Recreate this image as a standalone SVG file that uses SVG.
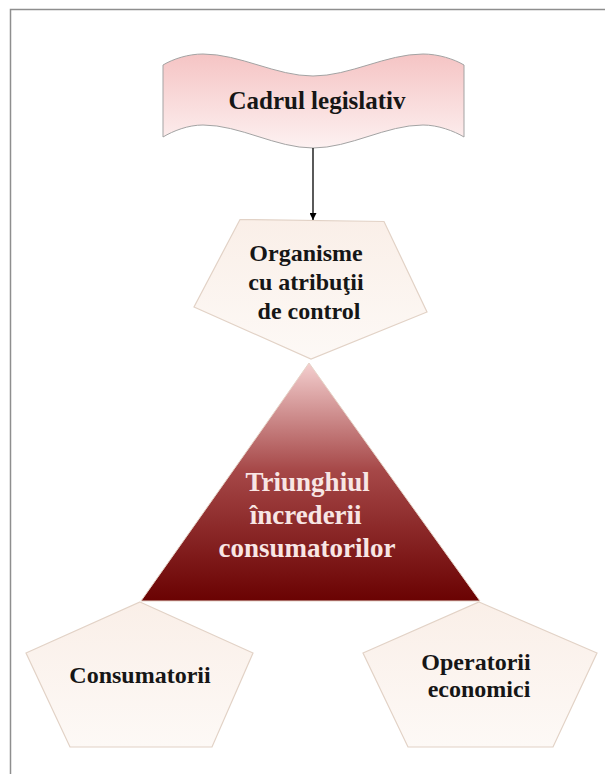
<svg xmlns="http://www.w3.org/2000/svg" width="605" height="774" viewBox="0 0 605 774">
  <style>
    .lbl { font-family: "Liberation Serif", "Times New Roman", serif; font-weight: bold; text-anchor: middle; fill: #161616; }
    .lbl-light { font-family: "Liberation Serif", "Times New Roman", serif; font-weight: bold; text-anchor: middle; fill: #f8e6e4; }
    .penta { fill: url(#creamFill); stroke: #e2d2c6; stroke-width: 1.2; }
    .frame { stroke: #8e8e8e; stroke-width: 1.5; fill: none; }
    .link { stroke: #000; stroke-width: 1.3; fill: none; }
  </style>
  <defs>
    <linearGradient id="pinkFill" x1="0" y1="0" x2="0" y2="1">
      <stop offset="0" stop-color="#f5c4c4"/>
      <stop offset="1" stop-color="#fdf1f1"/>
    </linearGradient>
    <linearGradient id="creamFill" x1="0" y1="0" x2="0" y2="1">
      <stop offset="0" stop-color="#faefe8"/>
      <stop offset="1" stop-color="#fdf9f6"/>
    </linearGradient>
    <linearGradient id="redFill" x1="0" y1="0" x2="0" y2="1">
      <stop offset="0" stop-color="#f4cfcf"/>
      <stop offset="0.45" stop-color="#a64848"/>
      <stop offset="1" stop-color="#6a0202"/>
    </linearGradient>
    <marker id="arrowHead" viewBox="0 0 10 10" refX="10" refY="5" markerWidth="7" markerHeight="7" markerUnits="userSpaceOnUse" orient="auto">
      <path d="M0,0 L10,5 L0,10 Z" fill="#000"/>
    </marker>
  </defs>

  <rect width="605" height="774" fill="#ffffff"/>
  <!-- page frame: top and left edges only -->
  <path class="frame" d="M10.5,774 L10.5,9.5 L605,9.5"/>

  <g id="cadrul">
    <path d="M163,65 C173,59 188,54 203,54 C240,54 276,76 313,76 C350,76 386,54 423,54 C438,54 454,59 464,65 L464,137 C454,131 438,125 423,125 C386,125 350,148 313,148 C276,148 240,125 203,125 C188,125 173,131 163,137 Z" fill="url(#pinkFill)" stroke="#a3a3a3" stroke-width="1"/>
    <text class="lbl" x="317" y="109" font-size="25">Cadrul legislativ</text>
  </g>

  <g id="organisme">
    <polygon class="penta" points="240,219.5 384,221.5 427,312 311,359 194,307"/>
    <text class="lbl" font-size="24">
      <tspan x="309" y="261">Organisme</tspan>
      <tspan x="309" y="290">cu atribuţii</tspan>
      <tspan x="309" y="319">de control</tspan>
    </text>
  </g>

  <g id="triunghiul">
    <polygon points="309,363 480,601 141,601" fill="url(#redFill)" stroke="#e6d3c7" stroke-width="1"/>
    <text class="lbl-light" font-size="27">
      <tspan x="311" y="491">Triunghiul</tspan>
      <tspan x="309" y="524">încrederii</tspan>
      <tspan x="307" y="557">consumatorilor</tspan>
    </text>
  </g>

  <g id="consumatorii">
    <polygon class="penta" points="140,602 253,653 212,747 70,747 26,653"/>
    <text class="lbl" x="140" y="683" font-size="24">Consumatorii</text>
  </g>

  <g id="operatorii">
    <polygon class="penta" points="479,602 597,653 553,747 408,747 363,653"/>
    <text class="lbl" font-size="24">
      <tspan x="479" y="670">Operatorii</tspan>
      <tspan x="479" y="697">economici</tspan>
    </text>
  </g>

  <g id="connectors">
    <line class="link" x1="313" y1="148" x2="313" y2="220" marker-end="url(#arrowHead)"/>
  </g>
</svg>
